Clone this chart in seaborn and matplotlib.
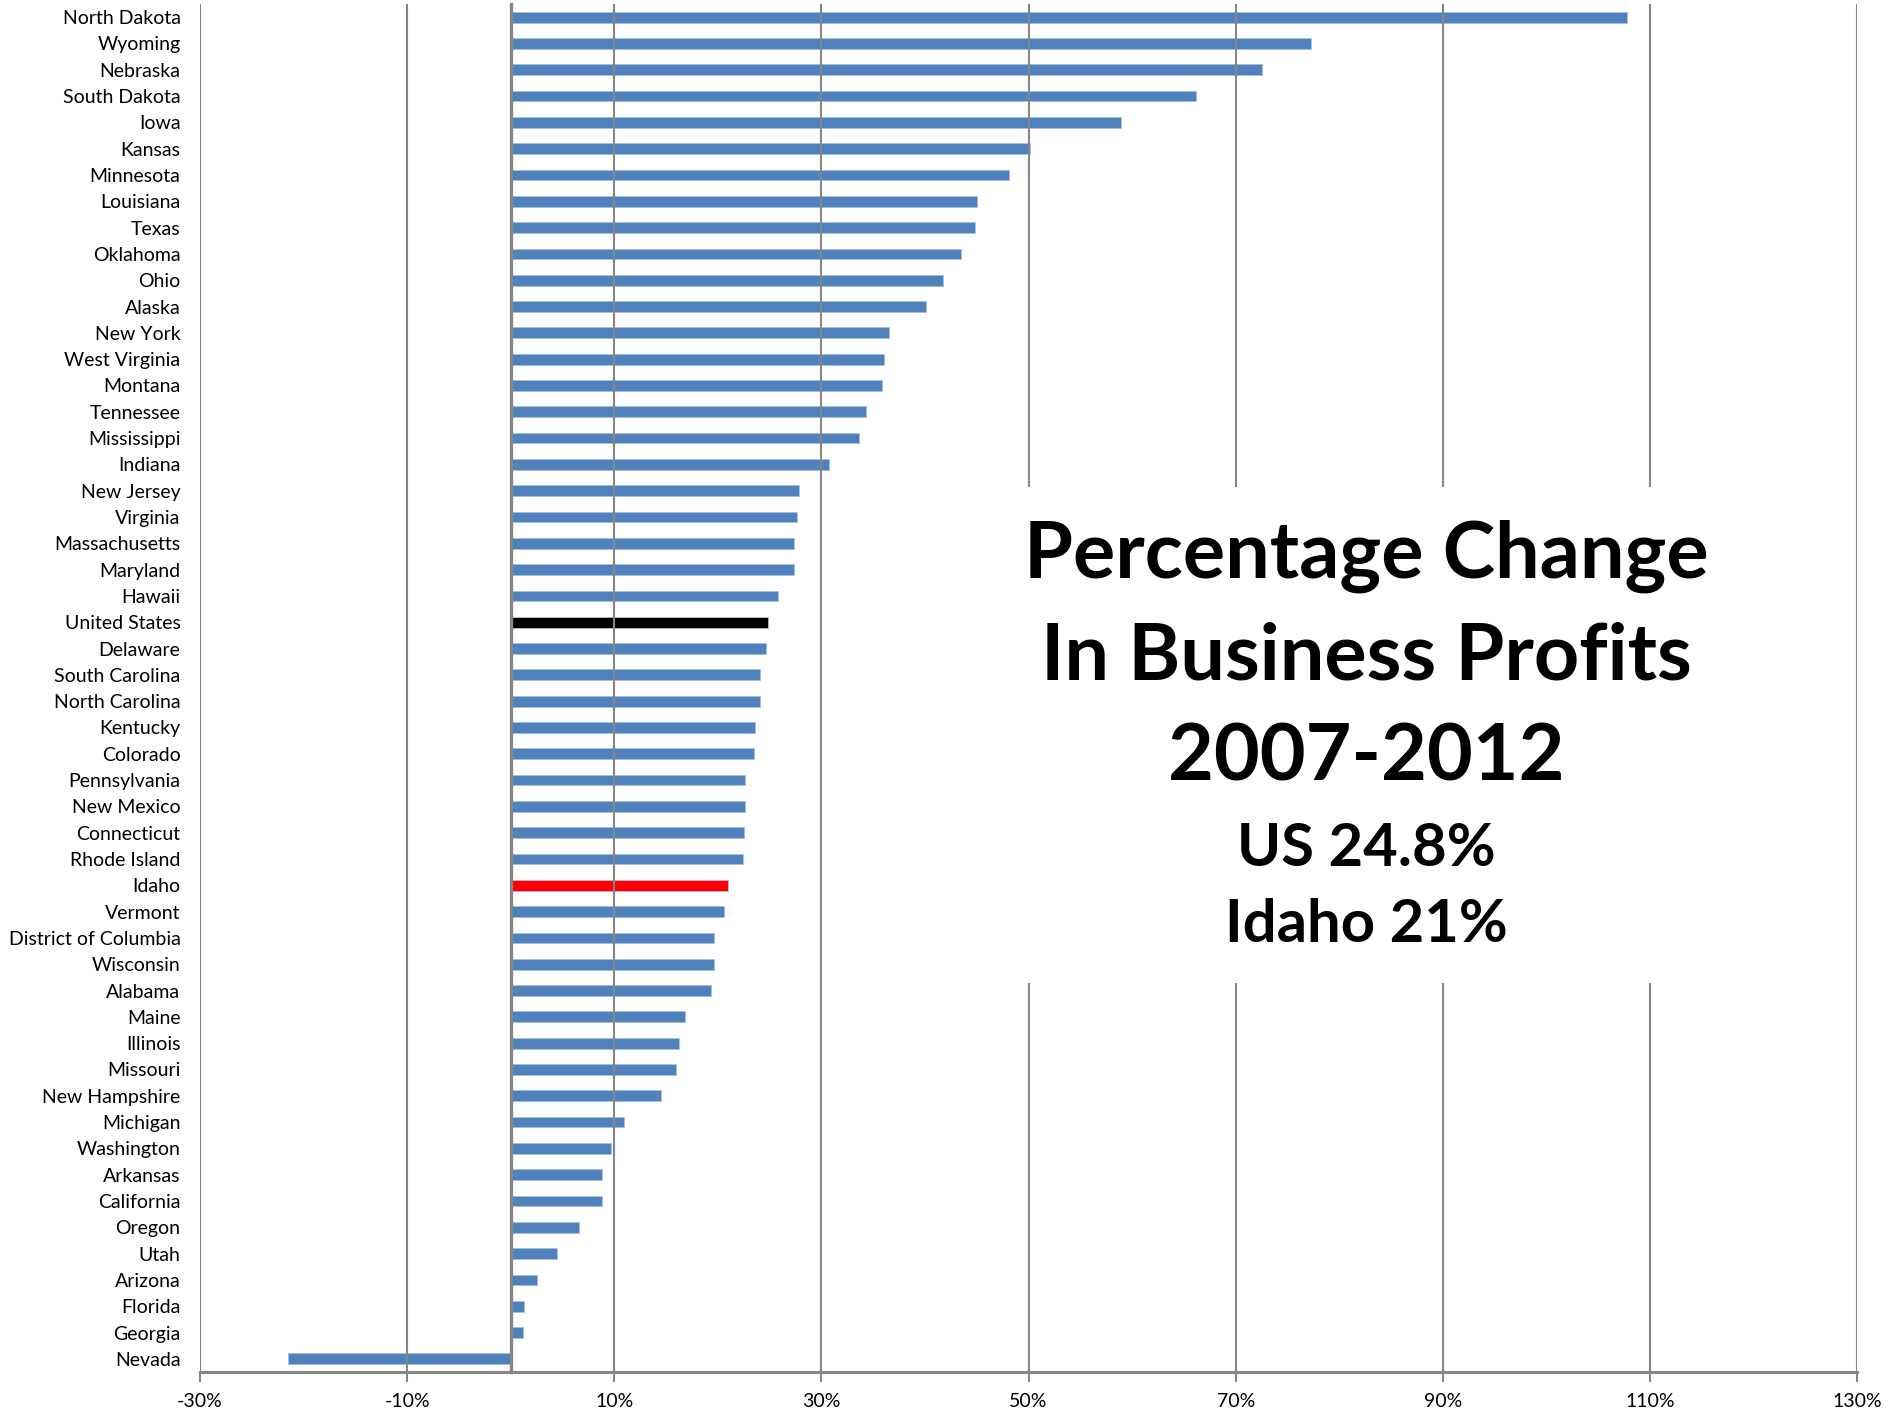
import numpy as np
import pandas as pd
import matplotlib
matplotlib.use("Agg")
import matplotlib.pyplot as plt
import matplotlib.ticker as mticker
from matplotlib.patches import Rectangle
import seaborn as sns

states = ["North Dakota", "Wyoming", "Nebraska", "South Dakota", "Iowa", "Kansas",
          "Minnesota", "Louisiana", "Texas", "Oklahoma", "Ohio", "Alaska", "New York",
          "West Virginia", "Montana", "Tennessee", "Mississippi", "Indiana", "New Jersey",
          "Virginia", "Massachusetts", "Maryland", "Hawaii", "United States", "Delaware",
          "South Carolina", "North Carolina", "Kentucky", "Colorado", "Pennsylvania",
          "New Mexico", "Connecticut", "Rhode Island", "Idaho", "Vermont",
          "District of Columbia", "Wisconsin", "Alabama", "Maine", "Illinois", "Missouri",
          "New Hampshire", "Michigan", "Washington", "Arkansas", "California", "Oregon",
          "Utah", "Arizona", "Florida", "Georgia", "Nevada"]
pct_change = [107.8, 77.3, 72.5, 66.2, 58.9, 50.1,
              48.1, 45.0, 44.8, 43.5, 41.7, 40.1, 36.5,
              36.0, 35.9, 34.3, 33.6, 30.7, 27.8,
              27.6, 27.4, 27.4, 25.8, 24.8, 24.7,
              24.1, 24.1, 23.6, 23.5, 22.6,
              22.6, 22.5, 22.4, 21.0, 20.6,
              19.6, 19.6, 19.3, 16.8, 16.3, 16.0,
              14.5, 10.9, 9.7, 8.8, 8.8, 6.6,
              4.5, 2.5, 1.3, 1.2, -21.5]
highlight = {"United States": "#000000", "Idaho": "#FF0000"}
base_color = "#4F81BD"
x_ticks = [-30, -10, 10, 30, 50, 70, 90, 110, 130]
title_lines = ["Percentage Change", "In Business Profits", "2007-2012"]
sub_lines = ["US 24.8%", "Idaho 21%"]

df = pd.DataFrame({"state": states, "value": pct_change})
palette = {s: highlight.get(s, base_color) for s in states}

sns.set_theme(style="white")
plt.rcParams["font.family"] = ["Lato", "DejaVu Sans"]

fig = plt.figure(figsize=(18.91, 14.21), dpi=100)
ax = fig.add_axes([200 / 1891, 49 / 1421, 1657 / 1891, 1368 / 1421])

sns.barplot(data=df, x="value", y="state", hue="state", palette=palette,
            legend=False, orient="h", width=0.41, ax=ax, saturation=1,
            edgecolor="#A7C0DE", linewidth=0.6)

grid_col = "#868686"
ax.set_xlim(-30, 130)
ax.set_ylim(len(states) - 0.5, -0.5)
ax.set_xticks(x_ticks)
ax.xaxis.set_major_formatter(mticker.FuncFormatter(lambda v, p: f"{v:.0f}%"))
ax.grid(axis="x", color=grid_col, linewidth=1.5)
ax.grid(axis="y", visible=False)
ax.set_axisbelow(False)
for s in ["top", "right", "left"]:
    ax.spines[s].set_visible(False)
ax.spines["bottom"].set_color(grid_col)
ax.spines["bottom"].set_linewidth(2.2)
ax.set_xlabel("")
ax.set_ylabel("")
ax.tick_params(axis="x", which="major", direction="out", length=7, width=1.5,
               color=grid_col, labelsize=14, pad=8, labelcolor="black")
ax.tick_params(axis="y", which="major", length=0, labelsize=14, pad=14,
               labelcolor="black")
ax.tick_params(axis="y", which="minor", length=0)

# category axis line at 0 with boundary ticks
ax2 = ax.twiny()
ax2.set_xlim(ax.get_xlim())
ax2.yaxis.set_visible(True)
ax2.set_xticks([])
for s in ["top", "right", "bottom"]:
    ax2.spines[s].set_visible(False)
ax2.spines["left"].set_position(("data", 0))
ax2.spines["left"].set_color(grid_col)
ax2.spines["left"].set_linewidth(2.4)
ax2.yaxis.set_minor_locator(mticker.FixedLocator(np.arange(len(states) + 1) - 0.5))
ax2.tick_params(axis="y", which="major", length=0, labelleft=False)
ax2.tick_params(axis="y", which="minor", direction="out", length=7, width=2,
                color=grid_col, labelleft=False)

# white title panel
ax.add_patch(Rectangle((0.489, 0.2844), 0.424, 0.3626, transform=ax.transAxes,
                       facecolor="white", edgecolor="none", zorder=3))
title_y = [0.5965, 0.5225, 0.4485]
for t, y in zip(title_lines, title_y):
    ax.text(0.704, y, t, transform=ax.transAxes, ha="center", va="center",
            fontsize=57, fontweight="bold", color="black", zorder=4)
sub_y = [0.3825, 0.327]
for t, y in zip(sub_lines, sub_y):
    ax.text(0.704, y, t, transform=ax.transAxes, ha="center", va="center",
            fontsize=43, fontweight="bold", color="black", zorder=4)

fig.savefig("out.png", dpi=100, facecolor="white")
